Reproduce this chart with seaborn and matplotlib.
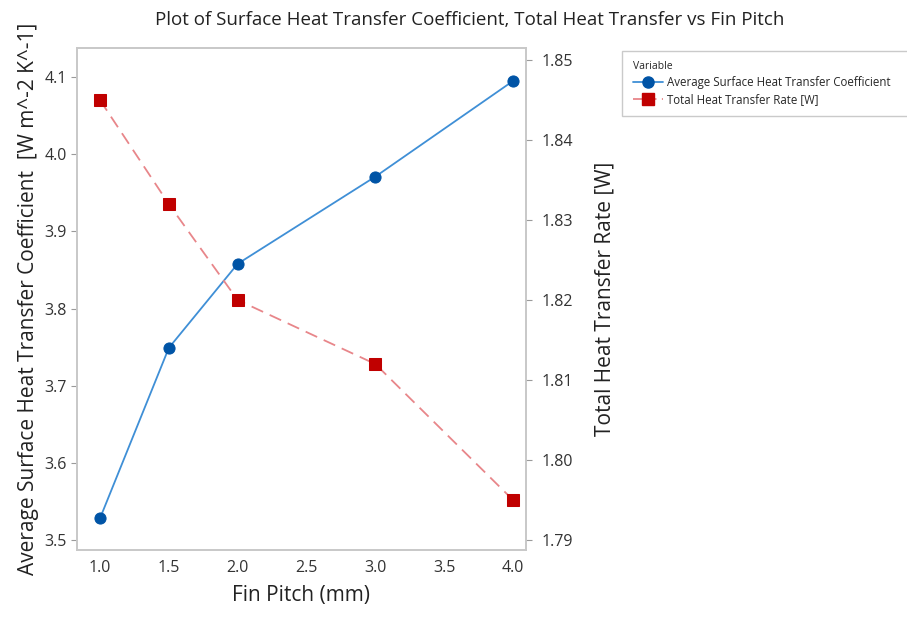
import matplotlib
matplotlib.use("Agg")
import matplotlib.pyplot as plt
import seaborn as sns
import pandas as pd
from matplotlib.lines import Line2D

fin_pitch = [1.0, 1.5, 2.0, 3.0, 4.0]
htc = [3.528, 3.749, 3.858, 3.971, 4.095]
heat_rate = [1.845, 1.832, 1.820, 1.812, 1.795]
left_ticks = [3.5, 3.6, 3.7, 3.8, 3.9, 4.0, 4.1]
right_ticks = [1.79, 1.80, 1.81, 1.82, 1.83, 1.84, 1.85]
x_ticks = [1.0, 1.5, 2.0, 2.5, 3.0, 3.5, 4.0]

sns.set_style("white")
plt.rcParams['font.family'] = ['Open Sans', 'DejaVu Sans']

df = pd.DataFrame({"fin": fin_pitch, "htc": htc, "q": heat_rate})

fig = plt.figure(figsize=(9.07, 6.17), dpi=100)
ax = fig.add_axes([0.0849, 0.1086, 0.495, 0.8134])
ax2 = ax.twinx()

sns.lineplot(data=df, x="fin", y="htc", ax=ax, color="#3f8fd6", linewidth=1.3,
             marker="o", markersize=8, markerfacecolor="#0054a6",
             markeredgecolor="#0054a6")
sns.lineplot(data=df, x="fin", y="q", ax=ax2, color="#e8868a", linewidth=1.3,
             marker="s", markersize=8, markerfacecolor="#c00000",
             markeredgecolor="#c00000")
ax2.lines[0].set_dashes([7, 4])

ax.set_xlim(0.833, 4.094)
ax.set_ylim(3.487, 4.1376)
ax2.set_ylim(1.78875, 1.8515)
ax.set_xticks(x_ticks)
ax.set_xticklabels([f"{t:.1f}" for t in x_ticks])
ax.set_yticks(left_ticks)
ax.set_yticklabels([f"{t:.1f}" for t in left_ticks])
ax2.set_yticks(right_ticks)
ax2.set_yticklabels([f"{t:.2f}" for t in right_ticks])

for a in (ax, ax2):
    for s in a.spines.values():
        s.set_color("#c8c8c8")
        s.set_linewidth(1.2)
    a.tick_params(axis="both", which="both", direction="out", length=4,
                  color="#9a9a9a", labelsize=11.5, labelcolor="#333333")
ax2.tick_params(axis="y", pad=7)

ax.set_xlabel("Fin Pitch (mm)", fontsize=15, color="#222222", labelpad=6)
ax.set_ylabel("Average Surface Heat Transfer Coefficient  [W m^-2 K^-1]",
              fontsize=15, color="#222222", labelpad=4)
ax2.set_ylabel("Total Heat Transfer Rate [W]", fontsize=15, color="#222222",
               labelpad=16)

fig.text(0.518, 0.968, "Plot of Surface Heat Transfer Coefficient, Total Heat Transfer vs Fin Pitch",
         ha="center", va="center", fontsize=13.5, color="#222222")

handles = [
    Line2D([], [], color="#3f8fd6", linewidth=1.3, marker="o", markersize=8,
           markerfacecolor="#0054a6", markeredgecolor="#0054a6"),
    Line2D([], [], color="#e8868a", linewidth=1.3, dashes=[5, 3], marker="s",
           markersize=8, markerfacecolor="#c00000", markeredgecolor="#c00000"),
]
leg = fig.legend(handles, ["Average Surface Heat Transfer Coefficient",
                           "Total Heat Transfer Rate [W]"],
                 title="Variable", loc="upper left",
                 bbox_to_anchor=(0.686, 0.918, 0.33, 0.0), mode="expand",
                 fontsize=8.3, title_fontsize=7.5, frameon=True, fancybox=False,
                 handlelength=2.6, borderpad=0.9, labelspacing=0.35,
                 handletextpad=0.4, borderaxespad=0.0)
leg._legend_box.align = "left"
leg.get_frame().set_edgecolor("#bdbdbd")
leg.get_frame().set_linewidth(1.0)

fig.savefig("out.png", dpi=100)
